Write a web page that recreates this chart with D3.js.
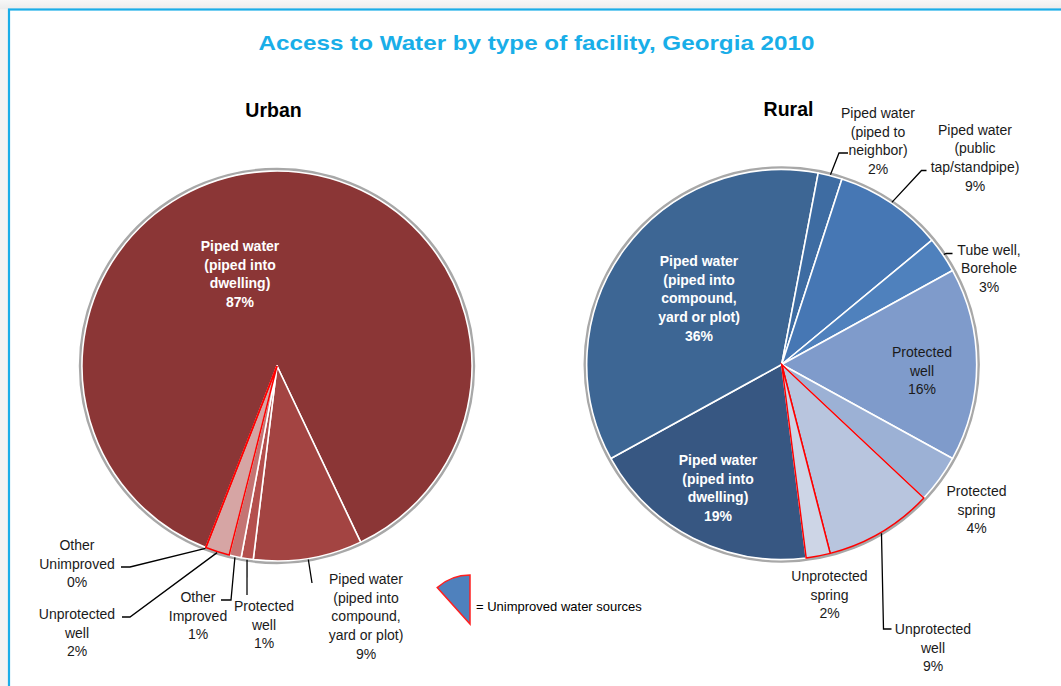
<!DOCTYPE html>
<html>
<head>
<meta charset="utf-8">
<script src="https://cdn.jsdelivr.net/npm/d3@7"></script>
<style>
  body { margin: 0; background: #ffffff; }
  svg { display: block; font-family: "Liberation Sans", Arial, sans-serif; }
</style>
</head>
<body>
<svg id="chart" width="1061" height="686"></svg>
<script>
// ---- Data ---------------------------------------------------------------
const chartTitle = "Access to Water by type of facility, Georgia 2010";

const urbanCategories = [
  "Piped water (piped into dwelling)",
  "Piped water (piped into compound, yard or plot)",
  "Protected well",
  "Other Improved",
  "Unprotected well",
  "Other Unimproved"
];
const urbanValues = [87, 9, 1, 1, 2, 0];
const urbanUnimproved = [false, false, false, false, true, true];
const urbanLabelLines = [
  ["Piped water", "(piped into", "dwelling)"],
  ["Piped water", "(piped into", "compound,", "yard or plot)"],
  ["Protected", "well"],
  ["Other", "Improved"],
  ["Unprotected", "well"],
  ["Other", "Unimproved"]
];

const ruralCategories = [
  "Piped water (piped into dwelling)",
  "Piped water (piped into compound, yard or plot)",
  "Piped water (piped to neighbor)",
  "Piped water (public tap/standpipe)",
  "Tube well, Borehole",
  "Protected well",
  "Protected spring",
  "Unprotected well",
  "Unprotected spring"
];
const ruralValues = [19, 36, 2, 9, 3, 16, 4, 9, 2];
const ruralUnimproved = [false, false, false, false, false, false, false, true, true];
const ruralLabelLines = [
  ["Piped water", "(piped into", "dwelling)"],
  ["Piped water", "(piped into", "compound,", "yard or plot)"],
  ["Piped water", "(piped to", "neighbor)"],
  ["Piped water", "(public", "tap/standpipe)"],
  ["Tube well,", "Borehole"],
  ["Protected", "well"],
  ["Protected", "spring"],
  ["Unprotected", "well"],
  ["Unprotected", "spring"]
];

const legendText = "= Unimproved water sources";

// ---- Styling / layout -----------------------------------------------------
const urbanColors = ["#8b3636", "#a34442", "#b44f4d", "#c47473", "#d6a5a4", "#d6a5a4"];
const ruralColors = ["#375782", "#3d6694", "#3e6ca2", "#4677b4", "#4f81bd", "#7f9bcb", "#9cb1d5", "#b8c5de", "#cdd5e6"];

const deg = Math.PI / 180;
const R = 195;
const lineH = 18.7;

// label placement: first-line centre, optional leader path (elbow points after the slice edge)
const urbanLayout = [
  { x: 240, y: 246, inside: true },
  { x: 366, y: 579, leader: [[312, 583]] },
  { x: 264, y: 606, leader: [[247, 595]] },
  { x: 198, y: 597, leader: [[231, 600], [221, 600]] },
  { x: 77, y: 614, leader: [[130, 617], [122, 617]] },
  { x: 77, y: 545, leader: [[130, 567], [121, 567]] }
];
const ruralLayout = [
  { x: 718, y: 460, inside: true },
  { x: 699, y: 261, inside: true },
  { x: 878, y: 113, leader: [[839, 153], [848, 153]] },
  { x: 975, y: 129.5, leader: [[921.5, 170.5], [926.5, 170.5]] },
  { x: 989, y: 249.5, leader: [[946.5, 253.5], [952.5, 253.5]] },
  { x: 922, y: 352, dark: true },
  { x: 976.5, y: 491 },
  { x: 933, y: 629, leader: [[883.5, 629], [891.5, 629]] },
  { x: 829.5, y: 576 }
];

const svg = d3.select("#chart");
const W = 1061, H = 686;

// ---- Frame --------------------------------------------------------------
const defs = svg.append("defs");
const shade = defs.append("linearGradient").attr("id", "shadeTop").attr("x1", 0).attr("y1", 0).attr("x2", 0).attr("y2", 1);
shade.append("stop").attr("offset", "0%").attr("stop-color", "#f7f7f7");
shade.append("stop").attr("offset", "100%").attr("stop-color", "#ececec");
svg.append("rect").attr("width", W).attr("height", H).attr("fill", "#f3f3f3");
svg.append("rect").attr("x", 0).attr("y", 0).attr("width", W).attr("height", 9).attr("fill", "url(#shadeTop)");
svg.append("rect").attr("x", 9).attr("y", 9.5).attr("width", W + 20).attr("height", H + 20)
  .attr("fill", "#ffffff").attr("stroke", "#1aade8").attr("stroke-width", 2.2);

// ---- Title ---------------------------------------------------------------
svg.append("text")
  .attr("x", 536.5).attr("y", 50)
  .attr("text-anchor", "middle")
  .attr("font-size", 21).attr("font-weight", "bold")
  .attr("fill", "#19aee8")
  .attr("textLength", 556).attr("lengthAdjust", "spacingAndGlyphs")
  .text(chartTitle);

// ---- Pie drawing ---------------------------------------------------------
function drawPie(opts) {
  const { cx, cy, values, colors, unimproved, lines, layout, startDeg, title, titleX } = opts;
  const g = svg.append("g").attr("transform", `translate(${cx},${cy})`);
  const a0 = startDeg * deg;
  const pie = d3.pie().sort(null).value(d => d).startAngle(a0).endAngle(a0 + 2 * Math.PI);
  const arcs = pie(values);
  const arc = d3.arc().innerRadius(0).outerRadius(R);

  // outer grey rim
  g.append("circle").attr("r", R + 1.6).attr("fill", "none")
    .attr("stroke", "#a8a8a8").attr("stroke-width", 3.2);

  // improved slices with white separators
  g.selectAll("path.improved")
    .data(arcs.filter((d, i) => !unimproved[i]))
    .join("path")
    .attr("class", "improved")
    .attr("d", arc)
    .attr("fill", d => colors[d.index])
    .attr("stroke", "#ffffff").attr("stroke-width", 1.6)
    .attr("stroke-linejoin", "round");

  // unimproved slices outlined in red, drawn on top
  g.selectAll("path.unimproved")
    .data(arcs.filter((d, i) => unimproved[i]))
    .join("path")
    .attr("class", "unimproved")
    .attr("d", arc)
    .attr("fill", d => colors[d.index])
    .attr("stroke", "#ff0000").attr("stroke-width", 1.5)
    .attr("stroke-linejoin", "miter");

  // labels and leader lines
  arcs.forEach((d, i) => {
    const L = layout[i];
    const txt = lines[i].concat([`${values[i]}%`]);
    if (L.leader) {
      const mid = (d.startAngle + d.endAngle) / 2;
      const p0 = [cx + (R + 1) * Math.sin(mid), cy - (R + 1) * Math.cos(mid)];
      svg.append("path")
        .attr("d", d3.line()([p0].concat(L.leader)))
        .attr("fill", "none").attr("stroke", "#000000").attr("stroke-width", 1.3);
    }
    const t = svg.append("text")
      .attr("text-anchor", "middle")
      .attr("font-size", 14)
      .attr("font-weight", L.inside ? "bold" : "normal")
      .attr("fill", L.inside ? "#ffffff" : "#1a1a1a");
    txt.forEach((s, k) => {
      t.append("tspan").attr("x", L.x).attr("y", L.y + k * lineH + 5).text(s);
    });
  });

  svg.append("text")
    .attr("x", titleX).attr("y", cy - 249)
    .attr("text-anchor", "middle")
    .attr("font-size", 19.5).attr("font-weight", "bold")
    .attr("fill", "#000000")
    .text(title);
}

drawPie({
  cx: 277, cy: 366, values: urbanValues, colors: urbanColors,
  unimproved: urbanUnimproved, lines: urbanLabelLines, layout: urbanLayout,
  startDeg: 201.4, title: "Urban", titleX: 273.5
});

drawPie({
  cx: 781.7, cy: 364.5, values: ruralValues, colors: ruralColors,
  unimproved: ruralUnimproved, lines: ruralLabelLines, layout: ruralLayout,
  startDeg: 172.8, title: "Rural", titleX: 788.5
});

// ---- Legend ---------------------------------------------------------------
const legendArc = d3.arc().innerRadius(0).outerRadius(49)
  .startAngle(-42 * deg).endAngle(0);
svg.append("path")
  .attr("transform", "translate(470,624)")
  .attr("d", legendArc())
  .attr("fill", "#4f81bd").attr("stroke", "#ff2020").attr("stroke-width", 1.5);
svg.append("text")
  .attr("x", 476).attr("y", 611)
  .attr("font-size", 13).attr("fill", "#000000")
  .text(legendText);
</script>
</body>
</html>
